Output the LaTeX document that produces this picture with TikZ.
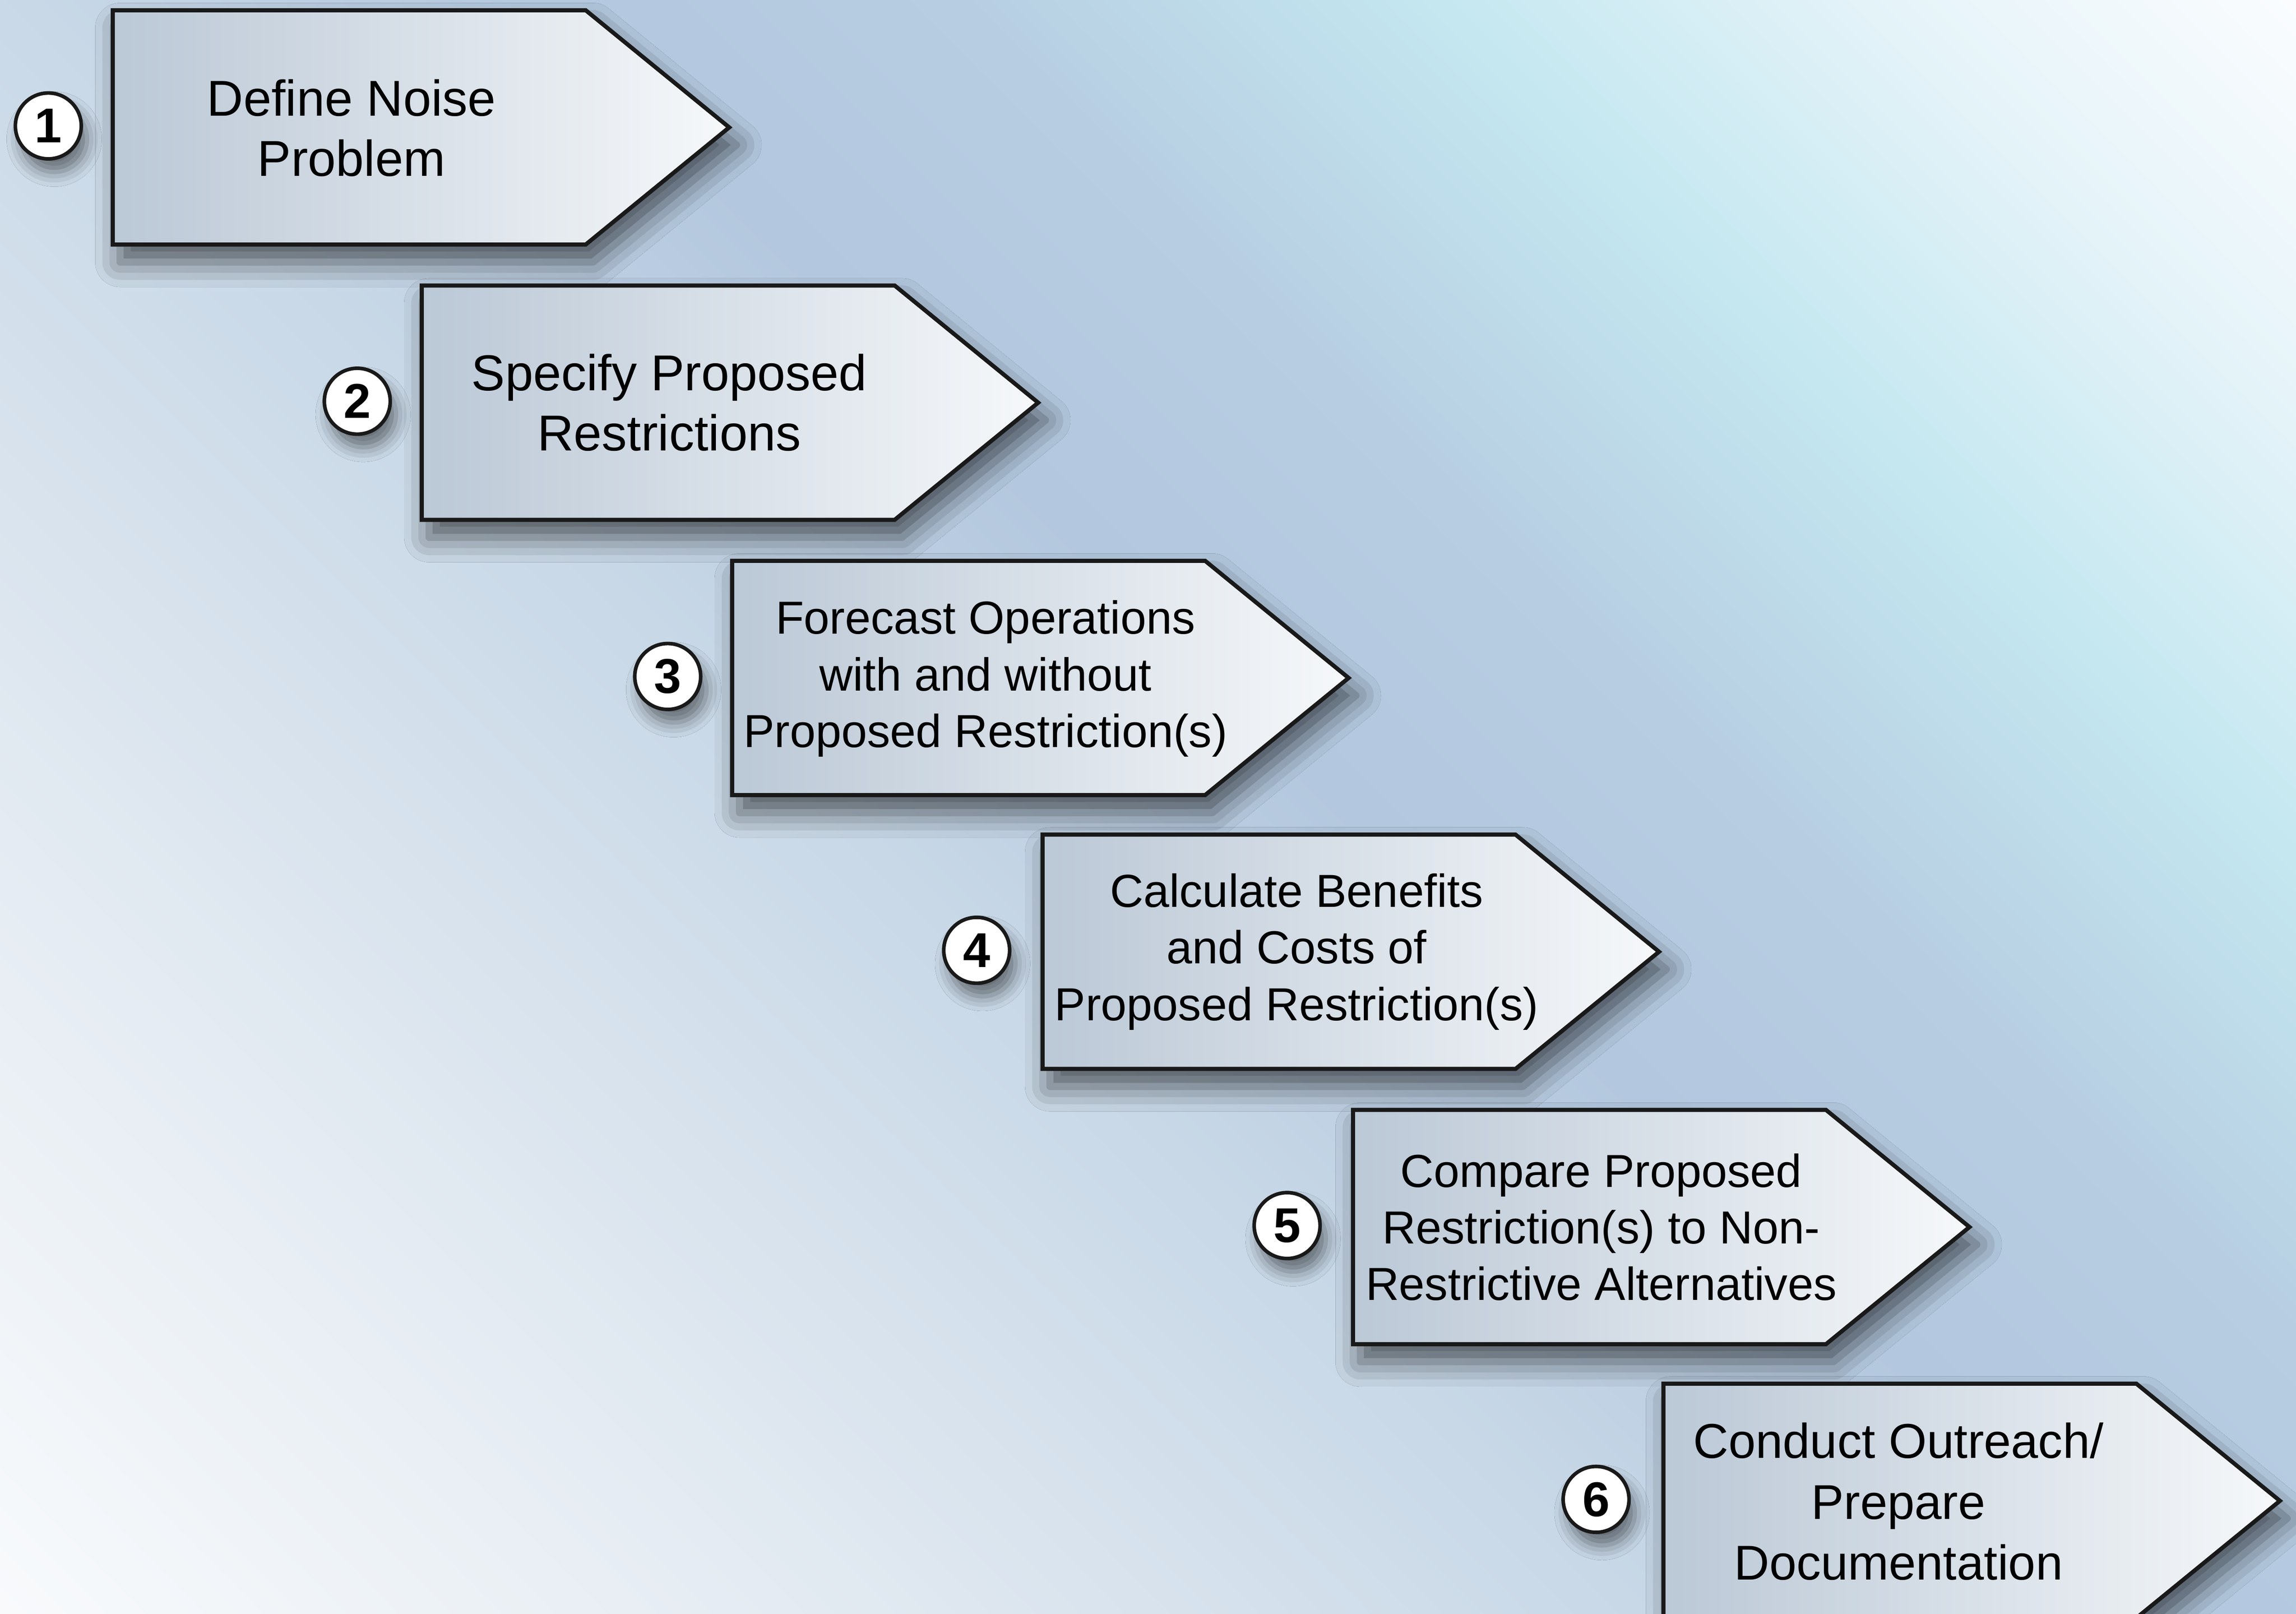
\documentclass[tikz,border=0pt]{standalone}
\usepackage{fontspec}
\setmainfont{Liberation Sans}
\usetikzlibrary{shadows.blur}

\definecolor{bgwhite}{HTML}{F8FAFC}
\definecolor{bglight}{HTML}{E4EBF2}
\definecolor{bgpale}{HTML}{C8D8E7}
\definecolor{bgblue}{HTML}{B3C7DE}
\definecolor{bgsteel}{HTML}{B7CEE2}
\definecolor{bgcyan}{HTML}{C4E7F0}
\definecolor{bgfrost}{HTML}{E6F4F9}
\definecolor{bgtop}{HTML}{FAFCFE}
\definecolor{stepleft}{HTML}{BBC8D6}
\definecolor{stepright}{HTML}{F6F8FA}

\pgfdeclarehorizontalshading{bgshade}{100bp}{%
  color(0bp)=(bgwhite); color(14.6bp)=(bgwhite); color(28.8bp)=(bglight);
  color(44.3bp)=(bgpale); color(53.5bp)=(bgblue); color(61.3bp)=(bgsteel);
  color(69.8bp)=(bgcyan); color(78.3bp)=(bgfrost); color(85.4bp)=(bgtop);
  color(100bp)=(bgtop)}

\tikzset{
  stepbox/.style={draw=black!90, line width=0.8pt, line join=miter,
    left color=stepleft, right color=stepright,
    blur shadow={shadow xshift=0.05cm, shadow yshift=-0.12cm,
      shadow blur radius=0.17cm, shadow opacity=60}},
  steptext/.style={align=center, inner sep=0pt, font=\fontsize{9}{11}\selectfont},
  numcircle/.style={circle, draw=black!90, line width=0.7pt, fill=white,
    minimum size=0.45cm, inner sep=0pt,
    font=\bfseries\fontsize{9.5}{10}\selectfont,
    blur shadow={shadow xshift=0.04cm, shadow yshift=-0.09cm,
      shadow blur radius=0.1cm, shadow opacity=50}}
}

\begin{document}
\begin{tikzpicture}
  \useasboundingbox (0,0) rectangle (15.68,-11.02);
  \shade[shading=bgshade, shading angle=45] (0,0) rectangle (15.68,-11.02);

  % steps
  \draw[stepbox] (0.77,-0.07) -- ++(3.23,0) -- ++(0.98,-0.8) -- ++(-0.98,-0.8) -- ++(-3.23,0) -- cycle;
  \node[steptext, font=\fontsize{9.8}{11.7}\selectfont] (define) at (2.40,-0.875) {Define Noise\\Problem};
  \node[numcircle] (n1) at (0.33,-0.86) {1};

  \draw[stepbox] (2.88,-1.95) -- ++(3.23,0) -- ++(0.98,-0.8) -- ++(-0.98,-0.8) -- ++(-3.23,0) -- cycle;
  \node[steptext, font=\fontsize{9.8}{11.7}\selectfont] (specify) at (4.57,-2.75) {Specify Proposed\\Restrictions};
  \node[numcircle] (n2) at (2.44,-2.74) {2};

  \draw[stepbox] (5.00,-3.83) -- ++(3.23,0) -- ++(0.98,-0.8) -- ++(-0.98,-0.8) -- ++(-3.23,0) -- cycle;
  \node[steptext] (forecast) at (6.73,-4.635) {Forecast Operations\\with and without\\Proposed Restriction(s)};
  \node[numcircle] (n3) at (4.56,-4.62) {3};

  \draw[stepbox] (7.12,-5.70) -- ++(3.23,0) -- ++(0.98,-0.8) -- ++(-0.98,-0.8) -- ++(-3.23,0) -- cycle;
  \node[steptext] (calculate) at (8.855,-6.50) {Calculate Benefits\\and Costs of\\Proposed Restriction(s)};
  \node[numcircle] (n4) at (6.67,-6.49) {4};

  \draw[stepbox] (9.24,-7.58) -- ++(3.23,0) -- ++(0.98,-0.8) -- ++(-0.98,-0.8) -- ++(-3.23,0) -- cycle;
  \node[steptext] (compare) at (10.935,-8.38) {Compare Proposed\\Restriction(s) to Non-\\Restrictive Alternatives};
  \node[numcircle] (n5) at (8.79,-8.37) {5};

  \draw[stepbox] (11.36,-9.45) -- ++(3.23,0) -- ++(0.98,-0.8) -- ++(-0.98,-0.8) -- ++(-3.23,0) -- cycle;
  \node[steptext, font=\fontsize{9.5}{11.8}\selectfont] (conduct) at (12.965,-10.255) {Conduct Outreach/\\Prepare\\Documentation};
  \node[numcircle] (n6) at (10.90,-10.24) {6};
\end{tikzpicture}
\end{document}
